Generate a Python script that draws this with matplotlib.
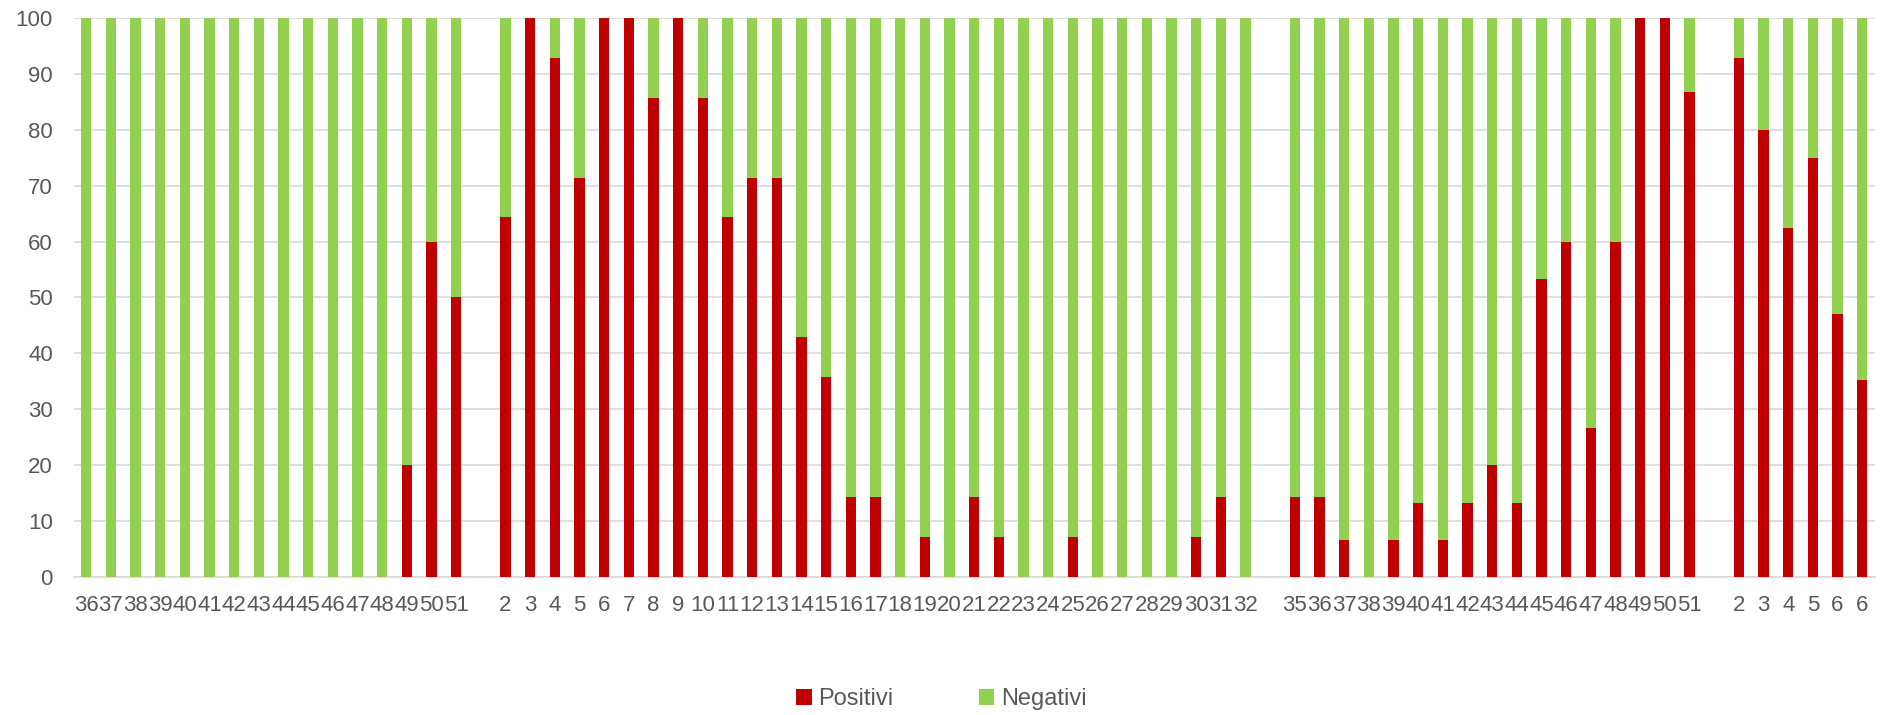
import matplotlib
matplotlib.use("Agg")
import matplotlib.pyplot as plt
import numpy as np
from matplotlib.patches import Patch

N = None  # empty separator slot

labels = (
    ["36", "37", "38", "39", "40", "41", "42", "43", "44", "45", "46", "47", "48", "49", "50", "51"]
    + [""]
    + [str(i) for i in range(2, 33)]
    + [""]
    + ["35", "36", "37", "38", "39", "40", "41", "42", "43", "44", "45", "46", "47", "48", "49", "50", "51"]
    + [""]
    + ["2", "3", "4", "5", "6", "6"]
)

positivi = [
    0, 0, 0, 0, 0, 0, 0, 0, 0, 0, 0, 0, 0, 20, 60, 50,
    N,
    64.3, 100, 92.9, 71.4, 100, 100, 85.7, 100, 85.7, 64.3, 71.4, 71.4, 42.9, 35.7, 14.3, 14.3,
    0, 7.1, 0, 14.3, 7.1, 0, 0, 7.1, 0, 0, 0, 0, 7.1, 14.3, 0,
    N,
    14.3, 14.3, 6.7, 0, 6.7, 13.3, 6.7, 13.3, 20, 13.3, 53.3, 60, 26.7, 60, 100, 100, 86.7,
    N,
    92.9, 80, 62.5, 75, 47.1, 35.3,
]

negativi = [
    100, 100, 100, 100, 100, 100, 100, 100, 100, 100, 100, 100, 100, 80, 40, 50,
    N,
    35.7, 0, 7.1, 28.6, 0, 0, 14.3, 0, 14.3, 35.7, 28.6, 28.6, 57.1, 64.3, 85.7, 85.7,
    100, 92.9, 100, 85.7, 92.9, 100, 100, 92.9, 100, 100, 100, 100, 92.9, 85.7, 100,
    N,
    85.7, 85.7, 93.3, 100, 93.3, 86.7, 93.3, 86.7, 80, 86.7, 46.7, 40, 73.3, 40, 0, 0, 13.3,
    N,
    7.1, 20, 37.5, 25, 52.9, 64.7,
]

series_names = ["Positivi", "Negativi"]
colors = ["#C00000", "#92D050"]

pos = np.array([np.nan if v is None else v for v in positivi], dtype=float)
neg = np.array([np.nan if v is None else v for v in negativi], dtype=float)
x = np.arange(len(labels))

plt.rcParams["font.family"] = ["Liberation Sans", "DejaVu Sans"]
text_color = "#595959"
grid_color = "#D9D9D9"

fig = plt.figure(figsize=(18.83, 7.15), dpi=100)
ax = fig.add_axes([0.0392, 0.193, 0.9563, 0.782])

w = 0.41
ax.bar(x, pos, width=w, color=colors[0], zorder=3)
ax.bar(x, neg, width=w, bottom=pos, color=colors[1], zorder=3)

ax.set_xlim(-0.5, len(labels) - 0.5)
ax.set_ylim(0, 100)
ax.set_yticks(np.arange(0, 101, 10))
ax.set_xticks(x)
ax.set_xticklabels(labels)

fs = 16
ax.tick_params(axis="y", length=0, pad=15, labelsize=fs, labelcolor=text_color)
ax.tick_params(axis="x", length=0, pad=13, labelsize=fs, labelcolor=text_color)

ax.grid(axis="y", color=grid_color, linewidth=1.2, zorder=0)
ax.set_axisbelow(True)
for s in ["top", "right", "left"]:
    ax.spines[s].set_visible(False)
ax.spines["bottom"].set_color(grid_color)
ax.spines["bottom"].set_linewidth(1.2)

handles = [Patch(facecolor=c, edgecolor="none") for c in colors]
fig.legend(handles, series_names, loc="center", bbox_to_anchor=(0.5, 0.022),
           ncol=2, frameon=False, fontsize=17, labelcolor=text_color,
           handlelength=0.65, handleheight=0.65, handletextpad=0.3, columnspacing=3.6)

fig.savefig("out.png", dpi=100)
